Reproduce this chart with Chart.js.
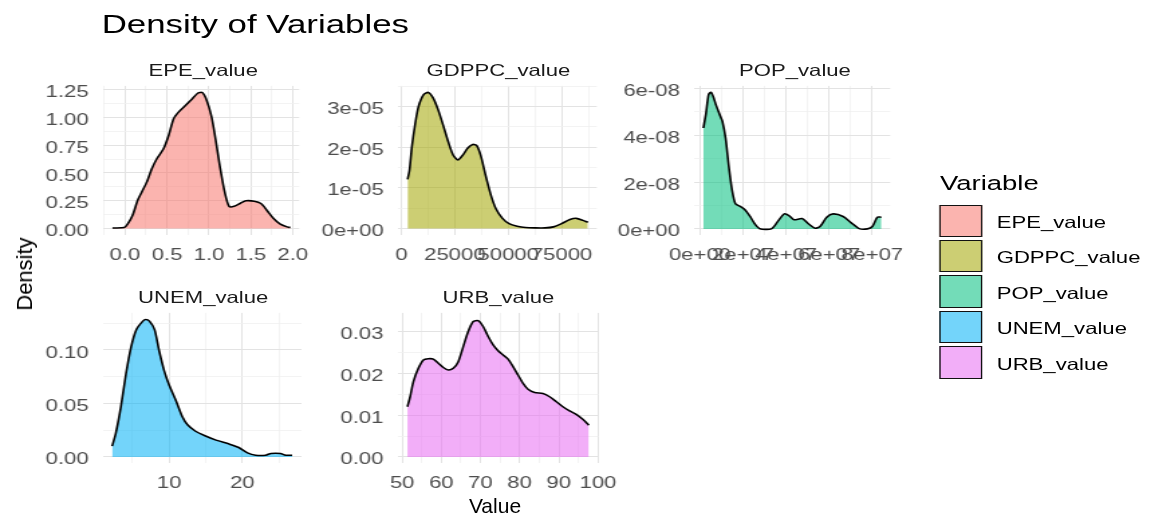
<!DOCTYPE html>
<html>
<head>
<meta charset="utf-8">
<script src="https://cdn.jsdelivr.net/npm/chart.js@4.4.1/dist/chart.umd.min.js"></script>
<style>
    html, body { margin: 0; padding: 0; background: #fff; overflow: hidden; }
    #stage {
        position: absolute; left: 0; top: 0; width: 860px; height: 520px;
        transform: scaleX(1.34); transform-origin: 0 0;
        font-family: "Liberation Sans", Arial, sans-serif;
    }
    .txt { position: absolute; white-space: nowrap; line-height: 1; font-family: "Liberation Sans", Arial, sans-serif; }
    .key { position: absolute; box-sizing: border-box; border: 1.4px solid #111; }
    canvas { position: absolute; }
</style>
</head>
<body>
<div id="stage"></div>
<script>
// the reference picture is stretched sideways, so the whole stage is scaled in x
const SX = 1.34;

const variables = ['EPE_value', 'GDPPC_value', 'POP_value', 'UNEM_value', 'URB_value'];

const epeX = [-0.15, -0.01, 0.03, 0.09, 0.15, 0.2, 0.26, 0.32, 0.38, 0.46, 0.52, 0.58, 0.64, 0.71, 0.79, 0.87, 0.92, 0.97, 1.03, 1.08, 1.13, 1.19, 1.24, 1.3, 1.38, 1.44, 1.54, 1.62, 1.69, 1.77, 1.85, 1.93, 1.97];
const epeY = [0.005, 0.009, 0.039, 0.12, 0.255, 0.33, 0.42, 0.54, 0.63, 0.72, 0.84, 0.99, 1.05, 1.1, 1.16, 1.22, 1.224, 1.16, 1.01, 0.8, 0.56, 0.32, 0.2, 0.2, 0.23, 0.25, 0.246, 0.225, 0.165, 0.09, 0.039, 0.015, 0.009];

const gdpX = [2900, 3800, 4900, 6500, 8000, 10300, 12600, 14900, 17200, 19500, 21900, 24200, 26500, 28800, 31100, 33400, 35300, 37300, 39600, 41900, 44200, 47300, 50400, 54200, 58100, 62700, 67300, 71200, 75000, 78900, 81900, 85000, 87300];
const gdpY = [1.21e-5, 1.44e-5, 2.01e-5, 2.59e-5, 3.0e-5, 3.29e-5, 3.35e-5, 3.21e-5, 2.92e-5, 2.55e-5, 2.14e-5, 1.81e-5, 1.69e-5, 1.81e-5, 1.98e-5, 2.07e-5, 2.04e-5, 1.77e-5, 1.27e-5, 0.82e-5, 0.49e-5, 0.25e-5, 0.12e-5, 0.057e-5, 0.025e-5, 0.015e-5, 0.015e-5, 0.04e-5, 0.12e-5, 0.22e-5, 0.25e-5, 0.2e-5, 0.15e-5];

const popX = [1.6e6, 2.8e6, 4.0e6, 5.1e6, 6.1e6, 7.4e6, 9.2e6, 1.04e7, 1.19e7, 1.34e7, 1.49e7, 1.65e7, 1.87e7, 2.1e7, 2.33e7, 2.55e7, 2.78e7, 3.31e7, 3.61e7, 3.92e7, 4.15e7, 4.37e7, 4.75e7, 5.05e7, 5.35e7, 5.58e7, 5.89e7, 6.19e7, 6.65e7, 7.02e7, 7.4e7, 7.78e7, 8.01e7, 8.24e7, 8.43e7];
const popY = [4.31e-8, 4.95e-8, 5.74e-8, 5.84e-8, 5.67e-8, 5.31e-8, 4.88e-8, 4.6e-8, 3.88e-8, 2.67e-8, 1.67e-8, 1.07e-8, 0.96e-8, 0.81e-8, 0.53e-8, 0.21e-8, 0.01e-8, 0, 0.31e-8, 0.64e-8, 0.56e-8, 0.39e-8, 0.44e-8, 0.21e-8, 0.03e-8, 0.1e-8, 0.5e-8, 0.64e-8, 0.53e-8, 0.27e-8, 0.01e-8, 0, 0.1e-8, 0.5e-8, 0.5e-8];

const unemX = [2.2, 2.7, 3.4, 4.1, 4.8, 5.5, 6.4, 6.8, 7.3, 8.0, 8.6, 9.3, 10.0, 10.9, 11.8, 12.5, 13.6, 14.8, 16.4, 18.2, 19.5, 20.7, 21.8, 23.2, 23.9, 25.2, 25.9, 26.8];
const unemY = [0.01, 0.022, 0.047, 0.078, 0.103, 0.119, 0.127, 0.1285, 0.127, 0.119, 0.1, 0.081, 0.067, 0.053, 0.0375, 0.03, 0.024, 0.02, 0.0157, 0.012, 0.0088, 0.0038, 0.0016, 0.0016, 0.0032, 0.0032, 0.0016, 0.0016];

const urbX = [51.35, 52.04, 52.88, 54.15, 55.42, 56.69, 57.96, 59.24, 60.51, 61.78, 63.05, 64.33, 65.6, 66.87, 68.14, 69.41, 70.69, 71.96, 73.23, 74.5, 75.78, 77.05, 78.32, 79.59, 80.87, 82.14, 83.84, 85.95, 87.66, 89.36, 91.04, 92.75, 94.45, 96.13, 97.66];
const urbY = [0.012, 0.0144, 0.018, 0.0212, 0.0232, 0.0235, 0.0234, 0.0224, 0.0214, 0.0208, 0.0212, 0.0228, 0.0264, 0.03, 0.0324, 0.0326, 0.0312, 0.0288, 0.0268, 0.0254, 0.0244, 0.0234, 0.0216, 0.0196, 0.0176, 0.0162, 0.0154, 0.0152, 0.0144, 0.0132, 0.012, 0.011, 0.0102, 0.009, 0.0076];

const fills = ['rgba(248,118,109,0.55)', 'rgba(163,165,0,0.55)', 'rgba(0,191,125,0.55)', 'rgba(0,176,246,0.55)', 'rgba(231,107,243,0.55)'];

const FONT = '"Liberation Sans", Arial, sans-serif';
const TICK_COLOR = '#4d4d4d';
const GRID_MAJOR = '#e3e3e3';
const GRID_MINOR = '#f0f0f0';

const stage = document.getElementById('stage');

function isMult(v, step) {
    const r = v / step;
    return Math.abs(r - Math.round(r)) < 1e-6;
}

function sci(v, exp) {
    const m = Math.round(v / Math.pow(10, exp));
    if (m === 0) return '0e+00';
    return m + 'e' + (exp < 0 ? '-' : '+') + String(Math.abs(exp)).padStart(2, '0');
}

function addText(parent, str, x, y, size, color, align, rotate) {
    const d = document.createElement('div');
    d.className = 'txt';
    d.textContent = str;
    d.style.left = x + 'px';
    d.style.top = y + 'px';
    d.style.fontSize = size + 'px';
    d.style.color = color;
    const tx = align === 'center' ? '-50%' : '0';
    d.style.transform = `translate(${tx}, -50%)` + (rotate ? ' rotate(-90deg)' : '');
    parent.appendChild(d);
}

// text inside the stretched stage, x given in reference pixels
function stageText(str, x, y, size, color, align) {
    addText(stage, str, x / SX, y, size, color, align, false);
}

// panel boxes in reference pixels: [left, top, right, bottom]
const panels = [
    { xs: epeX, ys: epeY, box: [104, 86, 302.5, 235],
      x: [-0.259, 2.076, 0.25, 0.5, (v) => v.toFixed(1)],
      y: [-0.06, 1.284, 0.125, 0.25, (v) => v.toFixed(2)] },
    { xs: gdpX, ys: gdpY, box: [398, 86, 599, 235],
      x: [-1386, 91496, 12500, 25000, (v) => String(Math.round(v))],
      y: [-0.165e-5, 3.51e-5, 0.5e-5, 1e-5, (v) => sci(v, -5)] },
    { xs: popX, ys: popY, box: [695, 86, 895, 235],
      x: [-0.25e7, 8.84e7, 1e7, 2e7, (v) => sci(v, 7)],
      y: [-0.27e-8, 6.11e-8, 1e-8, 2e-8, (v) => sci(v, -8)] },
    { xs: unemX, ys: unemY, box: [104, 313, 302.5, 463],
      x: [1.0, 28.08, 5, 10, (v) => String(Math.round(v))],
      y: [-0.0059, 0.1347, 0.025, 0.05, (v) => v.toFixed(2)] },
    { xs: urbX, ys: urbY, box: [398, 313, 599, 463],
      x: [48.98, 100.13, 5, 10, (v) => String(Math.round(v))],
      y: [-0.0015, 0.03446, 0.005, 0.01, (v) => v.toFixed(2)] },
];

function axisOptions(a, padding, labelOffset) {
    const [min, max, step, major, fmt] = a;
    const gridPick = (c, on, off) => (c.tick && isMult(c.tick.value, major) ? on : off);
    return {
        type: 'linear', min, max,
        border: { display: false },
        grid: {
            drawTicks: false,
            color: (c) => gridPick(c, GRID_MAJOR, GRID_MINOR),
            lineWidth: (c) => gridPick(c, 1, 0.8),
        },
        // minor + major breaks like ggplot; Chart.js stepSize snaps oddly on big ranges
        afterBuildTicks: (scale) => {
            const out = [];
            for (let k = Math.ceil(min / step - 1e-9); k * step <= max + 1e-12 * Math.abs(max); k++) {
                out.push({ value: k * step });
            }
            scale.ticks = out;
        },
        ticks: {
            autoSkip: false, maxRotation: 0, minRotation: 0, padding, labelOffset,
            color: TICK_COLOR, font: { family: FONT, size: 16.5 },
            callback: (v) => (isMult(v, major) ? fmt(v) : ''),
        },
    };
}

function buildChart(p, i, w, h) {
    const canvas = document.createElement('canvas');
    canvas.width = w;
    canvas.height = h;
    stage.appendChild(canvas);
    const chart = new Chart(canvas, {
        type: 'line',
        data: {
            datasets: [{
                data: p.xs.map((x, k) => ({ x, y: p.ys[k] })),
                borderColor: '#000',
                borderWidth: 1.6,
                backgroundColor: fills[i],
                fill: 'origin',
                pointRadius: 0,
                tension: 0.25,
            }],
        },
        options: {
            responsive: false, maintainAspectRatio: false, animation: false, devicePixelRatio: 1,
            layout: { padding: 0 },
            plugins: { legend: { display: false }, tooltip: { enabled: false } },
            scales: { x: axisOptions(p.x, 10, 0), y: axisOptions(p.y, 11, 3) },
        },
    });
    return { canvas, chart };
}

panels.forEach((p, i) => {
    const [l, t, r, b] = p.box;
    const pw = (r - l) / SX;
    const ph = b - t;

    // first pass measures the space the axes take, second pass fits the plot area exactly
    let built = buildChart(p, i, Math.round(pw + 120), Math.round(ph + 60));
    let ca = built.chart.chartArea;
    const extraW = built.chart.width - (ca.right - ca.left);
    const extraH = built.chart.height - (ca.bottom - ca.top);
    built.chart.destroy();
    built.canvas.remove();

    built = buildChart(p, i, Math.round(pw + extraW), Math.round(ph + extraH));
    ca = built.chart.chartArea;
    built.canvas.style.left = (l / SX - ca.left) + 'px';
    built.canvas.style.top = (t - ca.top) + 'px';

    stageText(variables[i], (l + r) / 2, t - 16, 16.5, '#1a1a1a', 'center');
});

stageText('Density of Variables', 101.7, 24, 26, '#000', 'left');
// the axis titles sit outside the stretched stage, as in the reference
addText(document.body, 'Value', 495, 505, 21, '#000', 'center', false);
addText(document.body, 'Density', 25, 274, 22, '#000', 'center', true);

// legend
stageText('Variable', 940, 183, 20.5, '#000', 'left');
variables.forEach((name, i) => {
    const top = 204.5 + i * 35.4;
    const k = document.createElement('div');
    k.className = 'key';
    k.style.left = (939.3 / SX) + 'px';
    k.style.top = top + 'px';
    k.style.width = (42.4 / SX) + 'px';
    k.style.height = '32.6px';
    k.style.background = fills[i];
    stage.appendChild(k);
    stageText(name, 996.7, top + 17.5, 16.5, '#000', 'left');
});
</script>
</body>
</html>
